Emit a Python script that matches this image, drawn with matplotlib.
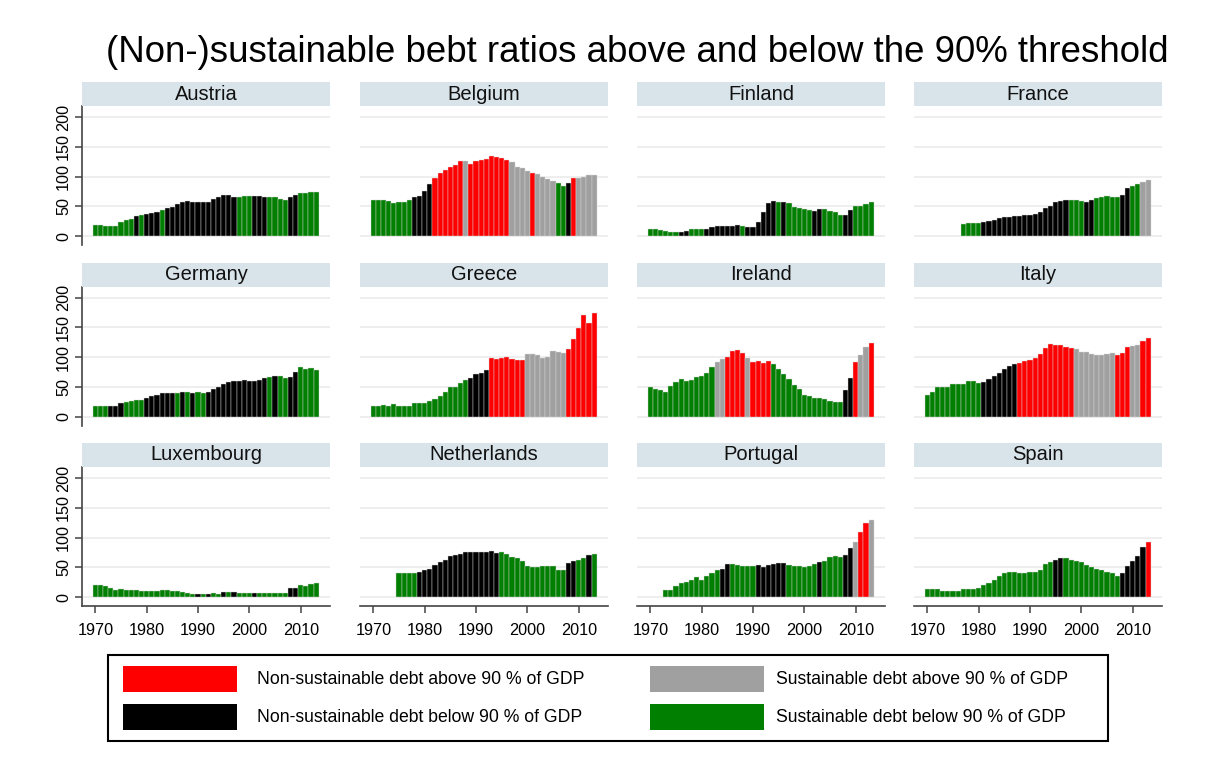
import numpy as np
import matplotlib
matplotlib.use("Agg")
import matplotlib.pyplot as plt
from matplotlib.patches import Rectangle

plt.rcParams['font.family'] = ['Liberation Sans', 'DejaVu Sans']

years = list(range(1970, 2014))
countries = ["Austria", "Belgium", "Finland", "France",
             "Germany", "Greece", "Ireland", "Italy",
             "Luxembourg", "Netherlands", "Portugal", "Spain"]

NA = np.nan
# debt ratios (% of GDP), 1970-2013
austria = [19, 19, 17, 17, 17, 23, 27, 29, 34, 36,
           37, 39, 41, 44, 47, 49, 54, 57, 59, 57,
           57, 57, 57, 62, 65, 69, 69, 65, 65, 67,
           67, 67, 67, 65, 65, 65, 63, 60, 66, 70,
           73, 73, 75, 75]
belgium = [61, 61, 61, 59, 56, 57, 57, 60, 65, 67,
           76, 87, 97, 107, 111, 116, 120, 126, 126, 122,
           126, 128, 129, 134, 133, 131, 128, 124, 117, 114,
           109, 107, 104, 99, 96, 92, 89, 85, 90, 97,
           97, 100, 102, 102]
finland = [12, 12, 10, 8, 7, 7, 7, 8, 12, 12,
           12, 12, 15, 17, 17, 17, 17, 19, 17, 15,
           15, 24, 40, 56, 59, 57, 57, 56, 49, 47,
           45, 44, 42, 45, 45, 42, 40, 35, 35, 44,
           50, 50, 54, 57]
france = [NA, NA, NA, NA, NA, NA, NA, 20, 22, 22,
          22, 24, 25, 27, 30, 32, 32, 34, 34, 35,
          35, 37, 40, 47, 50, 57, 59, 61, 61, 61,
          59, 57, 61, 64, 66, 67, 66, 66, 69, 81,
          84, 88, 91, 94]
germany = [18, 18, 18, 18, 18, 23, 25, 27, 28, 28,
           31, 34, 37, 39, 39, 40, 40, 42, 42, 40,
           42, 40, 42, 46, 49, 55, 59, 60, 60, 61,
           60, 60, 62, 65, 67, 68, 68, 65, 67, 75,
           83, 80, 82, 79]
greece = [18, 18, 20, 17, 22, 18, 18, 18, 23, 23,
          23, 27, 30, 35, 42, 49, 50, 57, 62, 65,
          72, 74, 79, 99, 97, 99, 101, 97, 96, 96,
          106, 106, 104, 99, 101, 111, 109, 107, 114, 131,
          149, 171, 158, 175]
ireland = [49, 47, 44, 42, 52, 59, 64, 60, 62, 67,
           69, 74, 84, 92, 97, 101, 111, 112, 107, 99,
           92, 94, 91, 94, 89, 80, 72, 64, 54, 47,
           37, 35, 32, 32, 30, 27, 25, 25, 45, 65,
           92, 104, 117, 124]
italy = [37, 42, 49, 50, 50, 55, 55, 55, 60, 60,
         57, 59, 64, 69, 74, 80, 85, 89, 91, 94,
         96, 99, 106, 115, 122, 120, 120, 117, 115, 113,
         109, 109, 106, 104, 104, 106, 107, 104, 107, 117,
         118, 120, 127, 132]
luxembourg = [20, 20, 18, 15, 12, 13, 12, 12, 12, 10,
              10, 10, 10, 12, 12, 10, 10, 8, 7, 5,
              5, 5, 5, 7, 5, 8, 8, 8, 7, 7,
              7, 7, 7, 7, 7, 7, 7, 7, 15, 15,
              20, 19, 22, 24]
netherlands = [NA, NA, NA, NA, NA, 40, 40, 40, 41, 43,
               45, 48, 54, 59, 63, 70, 71, 73, 76, 76,
               76, 76, 76, 78, 75, 76, 73, 68, 65, 61,
               53, 50, 50, 52, 52, 52, 46, 45, 58, 60,
               63, 65, 71, 73]
portugal = [NA, NA, NA, 12, 12, 19, 24, 26, 29, 33,
            29, 36, 41, 45, 48, 56, 56, 54, 53, 53,
            53, 54, 50, 54, 56, 58, 58, 54, 52, 52,
            50, 53, 56, 59, 61, 68, 70, 68, 71, 83,
            93, 109, 124, 129]
spain = [14, 14, 13, 11, 11, 11, 11, 13, 13, 14,
         16, 20, 24, 29, 36, 41, 43, 43, 40, 41,
         43, 43, 45, 56, 59, 63, 66, 66, 63, 61,
         59, 54, 51, 48, 46, 43, 40, 36, 40, 53,
         61, 69, 85, 93]

# category per year: R non-sust >90, B non-sust <90, S sust >90, G sust <90
cat_austria = "GGGGGGGG" "B" "G" "BBB" "G" "BBBBBBBBBBBBBB" "GGG" "BBB" "GGGG" "BB" "GGGG"
cat_belgium = "GGGGGGGG" "BBBB" "RRRRRR" "S" "RRRRRRRR" "SSSS" "R" "SSSS" "GG" "B" "R" "SSSS"
cat_finland = "GGGGGG" "BB" "GGG" "BBBBBBB" "G" "BBBBBB" "G" "B" "GGGGG" "BB" "GGGG" "BB" "GGGG"
cat_france = "......." "GGGG" "BBBBBBBBBBBBBBBBB" "GGG" "BB" "GGGGG" "BB" "GG" "SS"
cat_germany = "GGG" "BBB" "GGGG" "BBBBBB" "G" "B" "G" "B" "GG" "BBBBBBBBBBBB" "G" "B" "GG" "BB" "GGGG"
cat_greece = "GGGGGGGGGGGGGGGGGGG" "BBBB" "RRRRRRR" "SSSSSSSS" "RRRRRR"
cat_ireland = "GGGGGGGGGGGGG" "SS" "RRRR" "S" "RRRR" "GGGGGGGGGGGGGG" "BB" "R" "SS" "R"
cat_italy = "GGGGGGGGGGG" "BBBBBBB" "RRRRRRRRRRR" "SSSSSSSS" "RRR" "SS" "RR"
cat_luxembourg = "GGGGGGGGGGGGGGGGGGGG" "B" "G" "B" "GG" "B" "G" "B" "GGG" "B" "GGGGGG" "BB" "GGGG"
cat_netherlands = "....." "GGGG" "BBBBBBBBBBBBBBBB" "GGGGGGGGGGGGG" "BB" "GG" "B" "G"
cat_portugal = "..." "GGGGGGGGGGG" "BB" "GGGGG" "BBBBBB" "GGGGGG" "B" "GGGG" "BB" "S" "RR" "S"
cat_spain = "GGGGGGGGGGGGGGGGGGGGGGGGG" "BB" "GGGGGGGGGGG" "BBBBB" "R"

values = [austria, belgium, finland, france, germany, greece, ireland, italy,
          luxembourg, netherlands, portugal, spain]
cats = [cat_austria, cat_belgium, cat_finland, cat_france, cat_germany, cat_greece,
        cat_ireland, cat_italy, cat_luxembourg, cat_netherlands, cat_portugal, cat_spain]

legend_labels = ["Non-sustainable debt above 90 % of GDP",
                 "Sustainable debt above 90 % of GDP",
                 "Non-sustainable debt below 90 % of GDP",
                 "Sustainable debt below 90 % of GDP"]
yticks = [0, 50, 100, 150, 200]
xticks = [1970, 1980, 1990, 2000, 2010]

colors = {"R": "#ff0000", "B": "#000000", "S": "#a0a0a0", "G": "#007f00"}
strip_color = "#d9e4ea"

W, H = 1210, 776
fig = plt.figure(figsize=(W / 100, H / 100), dpi=100)
fig.patch.set_facecolor("white")

def fx(px):
    return px / W

def fy(py):
    return 1 - py / H

col_left = [82, 360, 637, 914]
col_w = 248
row_top = [106, 286.5, 467]
plot_h = 139
strip_h = 24

for k, (name, vals, cat) in enumerate(zip(countries, values, cats)):
    r, c = divmod(k, 4)
    x0 = col_left[c]
    y0 = row_top[r]
    ax = fig.add_axes([fx(x0), fy(y0 + plot_h), col_w / W, plot_h / H])
    keep = [i for i in range(len(years)) if cat[i] != "." and not np.isnan(vals[i])]
    yrs = [years[i] for i in keep]
    vv = [vals[i] for i in keep]
    cl = [colors[cat[i]] for i in keep]
    ax.bar(yrs, vv, width=1.0, color=cl, edgecolor="#d8d8d8", linewidth=0.3, zorder=3)
    ax.set_xlim(1967.4, 2015.7)
    ax.set_ylim(-15, 219)
    for t in yticks:
        ax.axhline(t, color="#e9e9e9", linewidth=1.1, zorder=1)
    for s in ["top", "right"]:
        ax.spines[s].set_visible(False)
    ax.spines["left"].set_visible(c == 0)
    ax.spines["bottom"].set_visible(r == 2)
    ax.spines["left"].set_color("#444444")
    ax.spines["bottom"].set_color("#444444")
    ax.spines["left"].set_linewidth(1.2)
    ax.spines["bottom"].set_linewidth(1.2)
    ax.set_yticks(yticks)
    ax.set_xticks(xticks)
    ax.tick_params(axis="both", labelsize=11.7, color="#444444", length=5, width=1.1)
    if c == 0:
        ax.set_yticklabels([str(t) for t in yticks], rotation=90, va="center")
        ax.tick_params(axis="y", pad=3)
    else:
        ax.tick_params(axis="y", left=False, labelleft=False)
    if r == 2:
        ax.set_xticklabels([str(t) for t in xticks])
        ax.tick_params(axis="x", pad=7.5)
    else:
        ax.tick_params(axis="x", bottom=False, labelbottom=False)
    ax.set_facecolor("white")
    # strip
    sax = fig.add_axes([fx(x0), fy(y0), col_w / W, strip_h / H])
    sax.set_facecolor(strip_color)
    for s in sax.spines.values():
        s.set_visible(False)
    sax.set_xticks([])
    sax.set_yticks([])
    sax.text(0.5, 0.5, name, ha="center", va="center", fontsize=14.5,
             transform=sax.transAxes, color="#111111")

fig.text(fx(637), fy(53), "(Non-)sustainable bebt ratios above and below the 90% threshold",
         ha="center", va="center", fontsize=26.4, color="black")

# legend
fig.patches.append(Rectangle((fx(108), fy(741)), 1000 / W, 86 / H, transform=fig.transFigure,
                             facecolor="white", edgecolor="black", linewidth=1.5, zorder=5))
leg_items = [("R", 123, 666, 257), ("S", 650, 666, 776), ("B", 123, 704, 257), ("G", 650, 704, 776)]
for (code, px, py, tx), lab in zip(leg_items, legend_labels):
    fig.patches.append(Rectangle((fx(px), fy(py + 26)), 114 / W, 26 / H, transform=fig.transFigure,
                                 facecolor=colors[code], edgecolor="none", zorder=6))
    fig.text(fx(tx), fy(py + 13), lab, ha="left", va="center", fontsize=12.7, zorder=7)

fig.savefig("out.png", dpi=100, facecolor="white")
